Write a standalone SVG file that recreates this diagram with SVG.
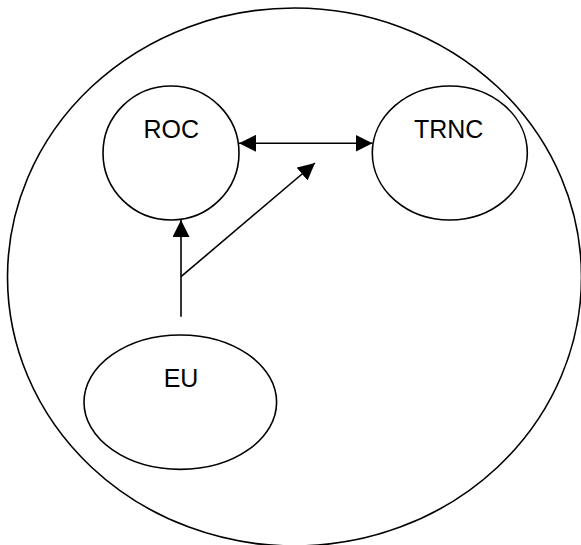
<svg xmlns="http://www.w3.org/2000/svg" width="581" height="545" viewBox="0 0 581 545">
<style>
.shape{fill:none;stroke:#000;stroke-width:1.6}
.lbl{font-family:"Liberation Sans",Arial,sans-serif;font-size:25px;fill:#000;text-anchor:middle}
.conn{fill:none;stroke:#000;stroke-width:1.6}
</style>
<defs>
<marker id="arr" markerUnits="userSpaceOnUse" markerWidth="17" markerHeight="17" viewBox="0 0 16 16" refX="16" refY="8" orient="auto-start-reverse">
<path d="M0,0 L16,8 L0,16 Z" fill="#000"/>
</marker>
</defs>
<rect width="581" height="545" fill="#fff"/>
<g id="outer"><ellipse class="shape" cx="294.5" cy="277" rx="287" ry="269"/></g>
<g id="roc"><ellipse class="shape" cx="171" cy="153" rx="68" ry="67"/><text class="lbl" x="171.3" y="138.3">ROC</text></g>
<g id="trnc"><ellipse class="shape" cx="449.8" cy="153" rx="77.5" ry="67"/><text class="lbl" x="448.7" y="138.3">TRNC</text></g>
<g id="eu"><ellipse class="shape" cx="180.3" cy="402.2" rx="96.3" ry="67.2"/><text class="lbl" x="181" y="386.7">EU</text></g>
<g id="connectors">
<line class="conn" x1="239" y1="143.3" x2="372.5" y2="143.3" marker-start="url(#arr)" marker-end="url(#arr)"/>
<line class="conn" x1="181" y1="316.7" x2="181" y2="220" marker-end="url(#arr)"/>
<line class="conn" x1="181" y1="276.7" x2="315" y2="163" marker-end="url(#arr)"/>
</g>
</svg>
